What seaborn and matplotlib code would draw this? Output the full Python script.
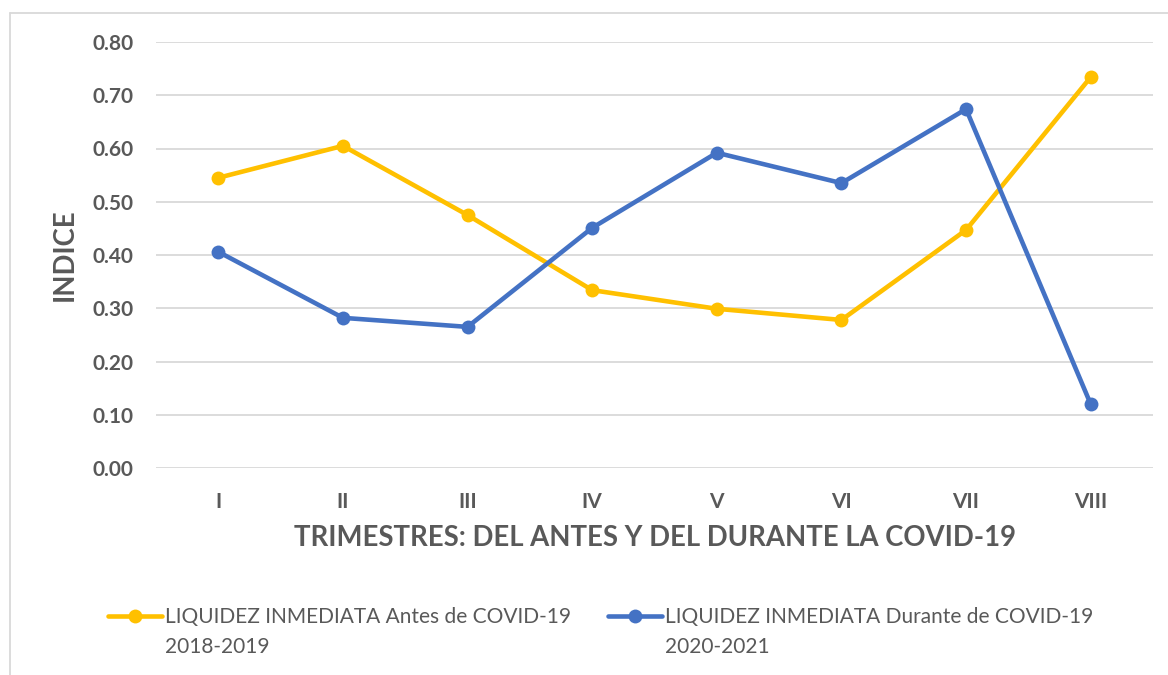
import matplotlib
matplotlib.use("Agg")
import matplotlib.pyplot as plt
import seaborn as sns
import pandas as pd

categories = ["I", "II", "III", "IV", "V", "VI", "VII", "VIII"]
antes = [0.545, 0.605, 0.475, 0.334, 0.299, 0.278, 0.447, 0.734]
durante = [0.406, 0.282, 0.265, 0.451, 0.592, 0.535, 0.674, 0.120]
series_names = ["LIQUIDEZ INMEDIATA Antes de COVID-19",
                "LIQUIDEZ INMEDIATA Durante de COVID-19"]
series_years = ["2018-2019", "2020-2021"]
yticks = [0.0, 0.1, 0.2, 0.3, 0.4, 0.5, 0.6, 0.7, 0.8]

df = pd.DataFrame({
    "Trimestre": categories * 2,
    "Indice": antes + durante,
    "Serie": [series_names[0]] * len(categories) + [series_names[1]] * len(categories),
})

sns.set_theme(style="white")
plt.rcParams['font.family'] = ['Lato', 'DejaVu Sans']
txt = "#595959"

fig = plt.figure(figsize=(11.68, 6.75), dpi=100)
ax = fig.add_axes([156/1168, 1 - 468/675, (1153-156)/1168, (468-42)/675])

palette = {series_names[0]: "#FFC000", series_names[1]: "#4472C4"}
sns.lineplot(data=df, x="Trimestre", y="Indice", hue="Serie", palette=palette,
             marker="o", markersize=10, markeredgewidth=0, linewidth=3.3,
             sort=False, ax=ax, legend=True)

ax.set_xlim(-0.5, len(categories) - 0.5)
ax.set_ylim(0, 0.8)
ax.set_yticks(yticks)
ax.set_yticklabels([f"{v:.2f}" for v in yticks])
ax.grid(axis="y", color="#D9D9D9", linewidth=1.3)
ax.set_axisbelow(True)
for s in ax.spines.values():
    s.set_visible(False)
ax.tick_params(axis="both", length=0, labelsize=15, labelcolor=txt)
for lab in ax.get_xticklabels() + ax.get_yticklabels():
    lab.set_fontweight("bold")
ax.tick_params(axis="y", pad=16)
ax.tick_params(axis="x", pad=17)

ax.set_xlabel("TRIMESTRES: DEL ANTES Y DEL DURANTE LA COVID-19",
              fontsize=19.8, fontweight="bold", color=txt, labelpad=10)
ax.set_ylabel("INDICE", fontsize=19.8, fontweight="bold", color=txt, labelpad=11)

handles, labels = ax.get_legend_handles_labels()
ax.get_legend().remove()
leg = fig.legend(handles, labels, loc="center left", bbox_to_anchor=(108/1168, 1 - 617/675),
                 ncol=2, frameon=False, fontsize=15, labelcolor=txt,
                 handlelength=2.6, handletextpad=0.15, columnspacing=1.75,
                 borderaxespad=0, borderpad=0)

fig.canvas.draw()
inv = fig.transFigure.inverted()
for t, yr in zip(leg.get_texts(), series_years):
    bb = t.get_window_extent()
    x0, _ = inv.transform((bb.x0, 0))
    fig.text(x0, 1 - 647/675, yr, fontsize=15, color=txt, ha="left", va="center")

# chart frame
fig.add_artist(plt.Line2D([10/1168, 10/1168], [0, 1 - 13/675], color="#D9D9D9", linewidth=1.3,
                          transform=fig.transFigure))
fig.add_artist(plt.Line2D([10/1168, 1], [1 - 13/675, 1 - 13/675], color="#D9D9D9", linewidth=1.3,
                          transform=fig.transFigure))

fig.savefig("out.png", dpi=100)
